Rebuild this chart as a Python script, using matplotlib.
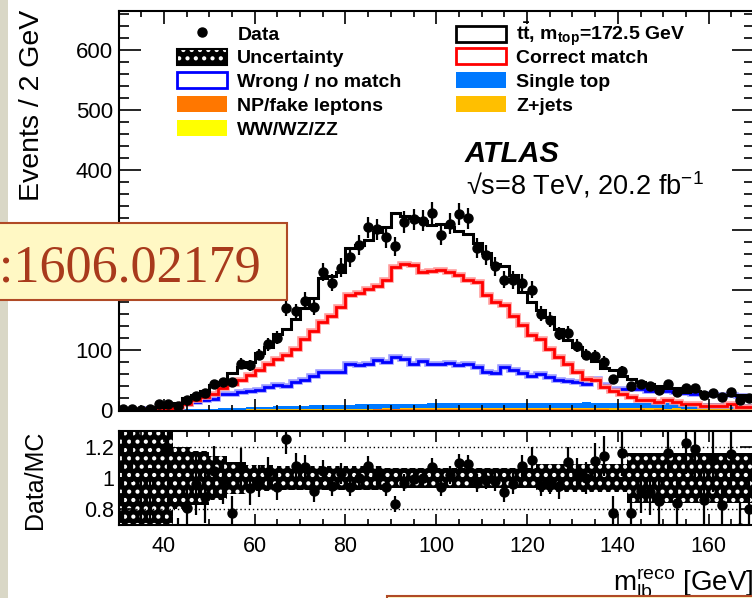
import matplotlib
matplotlib.use("Agg")
import matplotlib.pyplot as plt
from matplotlib.patches import Patch, Rectangle
from matplotlib.lines import Line2D
from matplotlib.ticker import MultipleLocator, FuncFormatter
import numpy as np

plt.rcParams['font.family'] = ['Liberation Sans', 'DejaVu Sans']
plt.rcParams['mathtext.fontset'] = 'custom'
plt.rcParams['mathtext.rm'] = 'Liberation Sans'
plt.rcParams['mathtext.it'] = 'Liberation Sans:italic'
plt.rcParams['mathtext.bf'] = 'Liberation Sans:bold'
plt.rcParams['hatch.linewidth'] = 1.8

# 2 GeV bins from 30 to 170 GeV
edges = np.arange(30, 172, 2)
centers = 0.5 * (edges[1:] + edges[:-1])

data = [2, 3, 1, 2, 11, 10, 7, 17, 24, 29,
        44, 47, 48, 78, 75, 93, 110, 121, 170, 165,
        183, 172, 230, 213, 238, 255, 276, 305, 302, 288,
        273, 314, 318, 316, 329, 292, 311, 327, 320, 270,
        259, 240, 218, 217, 213, 201, 161, 151, 128, 129,
        108, 93, 91, 81, 52, 66, 41, 44, 40, 34,
        44, 31, 38, 38, 25, 29, 22, 30, 17, 20]

ttbar = [1.0, 1.3, 2.0, 3.2, 5.5, 8.5, 13, 21, 25, 33,
         42, 48, 62, 73, 80, 95, 106, 128, 136, 153,
         171, 187, 220, 224, 231, 270, 276, 283, 297, 306,
         328, 324, 320, 316, 308, 310, 305, 299, 294, 279,
         262, 244, 240, 225, 198, 180, 168, 155, 135, 117,
         105, 93, 82, 71, 67, 57, 53, 48, 44, 40,
         38, 37, 31, 32, 29, 26, 26.5, 26, 25, 25]

correct = [0.2, 0.3, 0.5, 0.8, 1.5, 3, 6, 11, 17, 22,
           28, 38, 44, 50, 59, 67, 78, 86, 92, 103,
           119, 133, 147, 157, 172, 193, 196, 203, 208, 217,
           239, 244, 242, 231, 232, 234, 231, 225, 218, 214,
           192, 180, 175, 158, 142, 125, 119, 103, 89, 78,
           64, 53, 50, 39, 33, 28, 22, 18, 17, 14,
           17, 14, 11, 10, 8, 7, 8, 10, 6, 5]

wrong = [0.5, 0.8, 1.2, 2, 3, 5, 7, 11, 14, 17,
         19, 27, 27, 31, 32, 34, 39, 42, 40, 47,
         51, 57, 64, 64, 64, 77, 75, 77, 84, 81,
         89, 86, 78, 82, 77, 78, 79, 75, 77, 73,
         64, 62, 73, 67, 62, 58, 61, 56, 50, 49,
         47, 44, 53, 42, 36, 36, 36, 35, 33, 34,
         33, 30, 29, 27, 27, 26, 25, 25, 24, 23]

single_top = [0.1, 0.1, 0.2, 0.3, 0.4, 0.6, 0.8, 1.0, 1.3, 1.6,
              1.9, 2.3, 2.7, 3.0, 3.4, 3.8, 4.2, 4.6, 5.0, 5.3,
              5.6, 5.9, 6.2, 6.4, 6.7, 6.9, 7.1, 7.3, 7.5, 7.6,
              7.8, 7.9, 8.0, 8.1, 8.3, 8.2, 8.4, 8.6, 8.5, 8.7,
              8.8, 8.6, 8.9, 9.0, 8.8, 9.1, 9.0, 9.2, 9.1, 9.3,
              9.2, 9.4, 9.3, 9.2, 9.4, 9.3, 9.1, 9.2, 9.0, 9.1,
              8.9, 9.0, 8.8, 8.9, 8.7, 8.6, 8.7, 8.5, 8.4, 8.3]

zjets = [0.0, 0.1, 0.1, 0.1, 0.2, 0.2, 0.3, 0.3, 0.4, 0.5,
         0.5, 0.6, 0.7, 0.7, 0.8, 0.9, 0.9, 1.0, 1.1, 1.1,
         1.2, 1.2, 1.3, 1.3, 1.4, 1.4, 1.5, 1.5, 1.5, 1.6,
         1.6, 1.6, 1.7, 1.7, 1.7, 1.8, 1.7, 1.8, 1.8, 1.8,
         1.9, 1.8, 1.9, 1.9, 1.8, 1.9, 2.0, 1.9, 1.9, 2.0,
         1.9, 2.0, 1.9, 1.9, 2.0, 1.9, 1.8, 1.9, 1.8, 1.8,
         1.7, 1.8, 1.7, 1.7, 1.6, 1.7, 1.6, 1.6, 1.5, 1.5]

fakes = [0.0, 0.1, 0.1, 0.1, 0.2, 0.2, 0.3, 0.3, 0.4, 0.4,
         0.5, 0.5, 0.6, 0.6, 0.7, 0.7, 0.8, 0.8, 0.9, 0.9,
         1.0, 1.0, 1.0, 1.1, 1.1, 1.2, 1.1, 1.2, 1.2, 1.3,
         1.2, 1.3, 1.3, 1.2, 1.3, 1.4, 1.3, 1.3, 1.4, 1.3,
         1.4, 1.3, 1.4, 1.4, 1.3, 1.4, 1.5, 1.6, 1.4, 1.3,
         1.4, 1.5, 1.3, 1.4, 1.2, 1.3, 1.4, 1.3, 1.2, 1.3,
         1.2, 1.3, 1.1, 1.2, 1.2, 1.1, 1.2, 1.1, 1.0, 1.1]

diboson = [0.0, 0.0, 0.0, 0.1, 0.1, 0.1, 0.1, 0.1, 0.2, 0.2,
           0.2, 0.2, 0.2, 0.3, 0.3, 0.3, 0.3, 0.3, 0.3, 0.4,
           0.4, 0.4, 0.4, 0.4, 0.4, 0.4, 0.5, 0.4, 0.5, 0.5,
           0.5, 0.5, 0.5, 0.5, 0.5, 0.5, 0.5, 0.5, 0.5, 0.5,
           0.5, 0.5, 0.5, 0.5, 0.5, 0.5, 0.4, 0.5, 0.5, 0.4,
           0.4, 0.5, 0.4, 0.4, 0.4, 0.4, 0.4, 0.4, 0.4, 0.4,
           0.4, 0.3, 0.4, 0.3, 0.3, 0.3, 0.3, 0.3, 0.3, 0.3]

# relative uncertainty shown around 1 in the ratio panel
rel_unc = [0.5, 0.5, 0.5, 0.5, 0.5, 0.5, 0.2, 0.2, 0.17, 0.17,
           0.14, 0.14, 0.1, 0.1, 0.085, 0.085, 0.085, 0.075, 0.075, 0.075,
           0.075, 0.075, 0.075, 0.075, 0.075, 0.075, 0.075, 0.075, 0.075, 0.065,
           0.065, 0.065, 0.065, 0.065, 0.065, 0.065, 0.065, 0.065, 0.065, 0.065,
           0.065, 0.065, 0.065, 0.065, 0.065, 0.065, 0.09, 0.09, 0.09, 0.09,
           0.09, 0.09, 0.09, 0.09, 0.09, 0.09, 0.16, 0.16, 0.16, 0.16,
           0.16, 0.16, 0.16, 0.16, 0.16, 0.16, 0.16, 0.16, 0.16, 0.16]

W, H = 752, 598


def fx(px):
    return px / W


def fy(py):
    return 1 - py / H


fig = plt.figure(figsize=(W / 100, H / 100), dpi=100)

# page margin on the left
fig.patches.append(Rectangle((0, 0), fx(8), 1, transform=fig.transFigure,
                             facecolor='#d9d7c6', edgecolor='none', zorder=0))

left, right = 118.5, 754
ax = fig.add_axes([fx(left), fy(410.5), fx(right) - fx(left), (410.5 - 11) / H])
rax = fig.add_axes([fx(left), fy(525), fx(right) - fx(left), (525 - 431) / H])

# stacked backgrounds
base = np.zeros(len(centers))
for vals, col in [(diboson, '#ffff00'), (fakes, '#ff7700'),
                  (zjets, '#ffbf00'), (single_top, '#0079ff')]:
    top = base + np.array(vals)
    ax.stairs(top, edges, baseline=base, fill=True, color=col, lw=0)
    base = top

ax.stairs(wrong, edges, color='#9a9aff', lw=4)
ax.stairs(wrong, edges, color='#0000ff', lw=2)
ax.stairs(correct, edges, color='#ff9a9a', lw=4)
ax.stairs(correct, edges, color='#ff0000', lw=2)
ax.stairs(ttbar, edges, color='black', lw=2.2)

data = np.array(data, dtype=float)
ttbar = np.array(ttbar, dtype=float)
ax.errorbar(centers, data, yerr=np.sqrt(data), fmt='o', color='black',
            ms=6.5, elinewidth=1.6, capsize=0, zorder=5)

# ratio panel
unc = np.array(rel_unc)
rax.stairs(1 + unc, edges, baseline=1 - unc, fill=True, facecolor='black',
           edgecolor='white', hatch='..', lw=0)
for lvl in (0.8, 1.0, 1.2):
    rax.axhline(lvl, color='black', ls=(0, (1, 2)), lw=1, zorder=3)
rax.errorbar(centers, data / ttbar, yerr=np.sqrt(data) / ttbar, fmt='o',
             color='black', ms=6.5, elinewidth=1.6, capsize=0, zorder=5)

for a in (ax, rax):
    a.set_xlim(30, 170)
    a.xaxis.set_major_locator(MultipleLocator(20))
    a.xaxis.set_minor_locator(MultipleLocator(5))
    a.tick_params(which='both', direction='in', top=True, right=True,
                  width=1.2, colors='black')
    for s in a.spines.values():
        s.set_linewidth(1.5)

ax.set_ylim(0, 665)
ax.yaxis.set_major_locator(MultipleLocator(100))
ax.yaxis.set_minor_locator(MultipleLocator(20))
ax.tick_params(axis='y', which='major', length=16, labelsize=16, pad=4)
ax.tick_params(axis='y', which='minor', length=7)
ax.tick_params(axis='x', which='major', length=9)
ax.tick_params(axis='x', which='minor', length=4.5)
ax.tick_params(labelbottom=False)

rax.set_ylim(0.7, 1.3)
rax.yaxis.set_major_locator(MultipleLocator(0.2))
rax.yaxis.set_minor_locator(MultipleLocator(0.1))
rax.yaxis.set_major_formatter(FuncFormatter(lambda v, p: f'{v:g}'))
rax.tick_params(axis='y', which='major', length=10, labelsize=15.5, pad=3)
rax.tick_params(axis='y', which='minor', length=5)
rax.tick_params(axis='x', which='major', length=8, labelsize=15.5, pad=8)
rax.tick_params(axis='x', which='minor', length=4)

# axis titles
fig.text(fx(32), fy(10), 'Events / 2 GeV', rotation=90, ha='center', va='top',
         fontsize=20.5)
fig.text(fx(35), fy(480), 'Data/MC', rotation=90, ha='center', va='center',
         fontsize=18)
fig.text(fx(right), fy(591), r'$\mathrm{m_{lb}^{reco}}$ [GeV]', ha='right',
         va='baseline', fontsize=20)

fig.text(fx(465), fy(162), 'ATLAS', fontsize=21, weight='bold', style='italic',
         va='baseline')
fig.text(fx(466), fy(195), '\u221as=8 TeV, 20.2 fb$^{-1}$', fontsize=19.5,
         va='baseline')

# legend: left column, then the right column in two pieces so that its
# rows line up with the left one
leg_kw = dict(loc='upper left', frameon=False, borderpad=0, borderaxespad=0,
              handlelength=2.58, handleheight=0.88, handletextpad=0.52,
              labelspacing=0.26, prop=dict(weight='bold', size=14))
unc_handle = (Patch(facecolor='black', edgecolor='white', hatch='..', lw=0),
              Patch(facecolor='none', edgecolor='black', lw=1.5))
fig.legend([Line2D([], [], ls='none', marker='o', color='black', ms=6.5),
            unc_handle,
            Patch(facecolor='white', edgecolor='#0000ff', lw=2),
            Patch(facecolor='#ff7700', edgecolor='none'),
            Patch(facecolor='#ffff00', edgecolor='none')],
           ['Data', 'Uncertainty', 'Wrong / no match', 'NP/fake leptons',
            'WW/WZ/ZZ'],
           bbox_to_anchor=(fx(177), fy(25)), **leg_kw)
fig.legend([Patch(facecolor='white', edgecolor='black', lw=2)],
           [r'$\mathbf{t\bar{t}}$, m$_{\mathbf{top}}$=172.5 GeV'],
           bbox_to_anchor=(fx(456), fy(21)), **leg_kw)
fig.legend([Patch(facecolor='white', edgecolor='#ff0000', lw=2),
            Patch(facecolor='#0079ff', edgecolor='none'),
            Patch(facecolor='#ffbf00', edgecolor='none')],
           ['Correct match', 'Single top', 'Z+jets'],
           bbox_to_anchor=(fx(456), fy(48.5)), **leg_kw)

# arXiv stamp across the left side and the edge of another one at the bottom
fig.patches.append(Rectangle((fx(-5), fy(300)), fx(291.5), (300 - 223) / H,
                             transform=fig.transFigure, facecolor='#fff8c4',
                             edgecolor='#b04a26', lw=1.5, zorder=10))
fig.text(fx(261), fy(281.5), 'arXiv:1606.02179', fontsize=37.5,
         family='Liberation Serif', color='#a83a1c', ha='right',
         va='baseline', zorder=11)
fig.patches.append(Rectangle((fx(387), fy(604)), fx(380), (604 - 595.5) / H,
                             transform=fig.transFigure, facecolor='#fff8c4',
                             edgecolor='#b04a26', lw=1.5, zorder=10))

fig.savefig('out.png', dpi=100)
